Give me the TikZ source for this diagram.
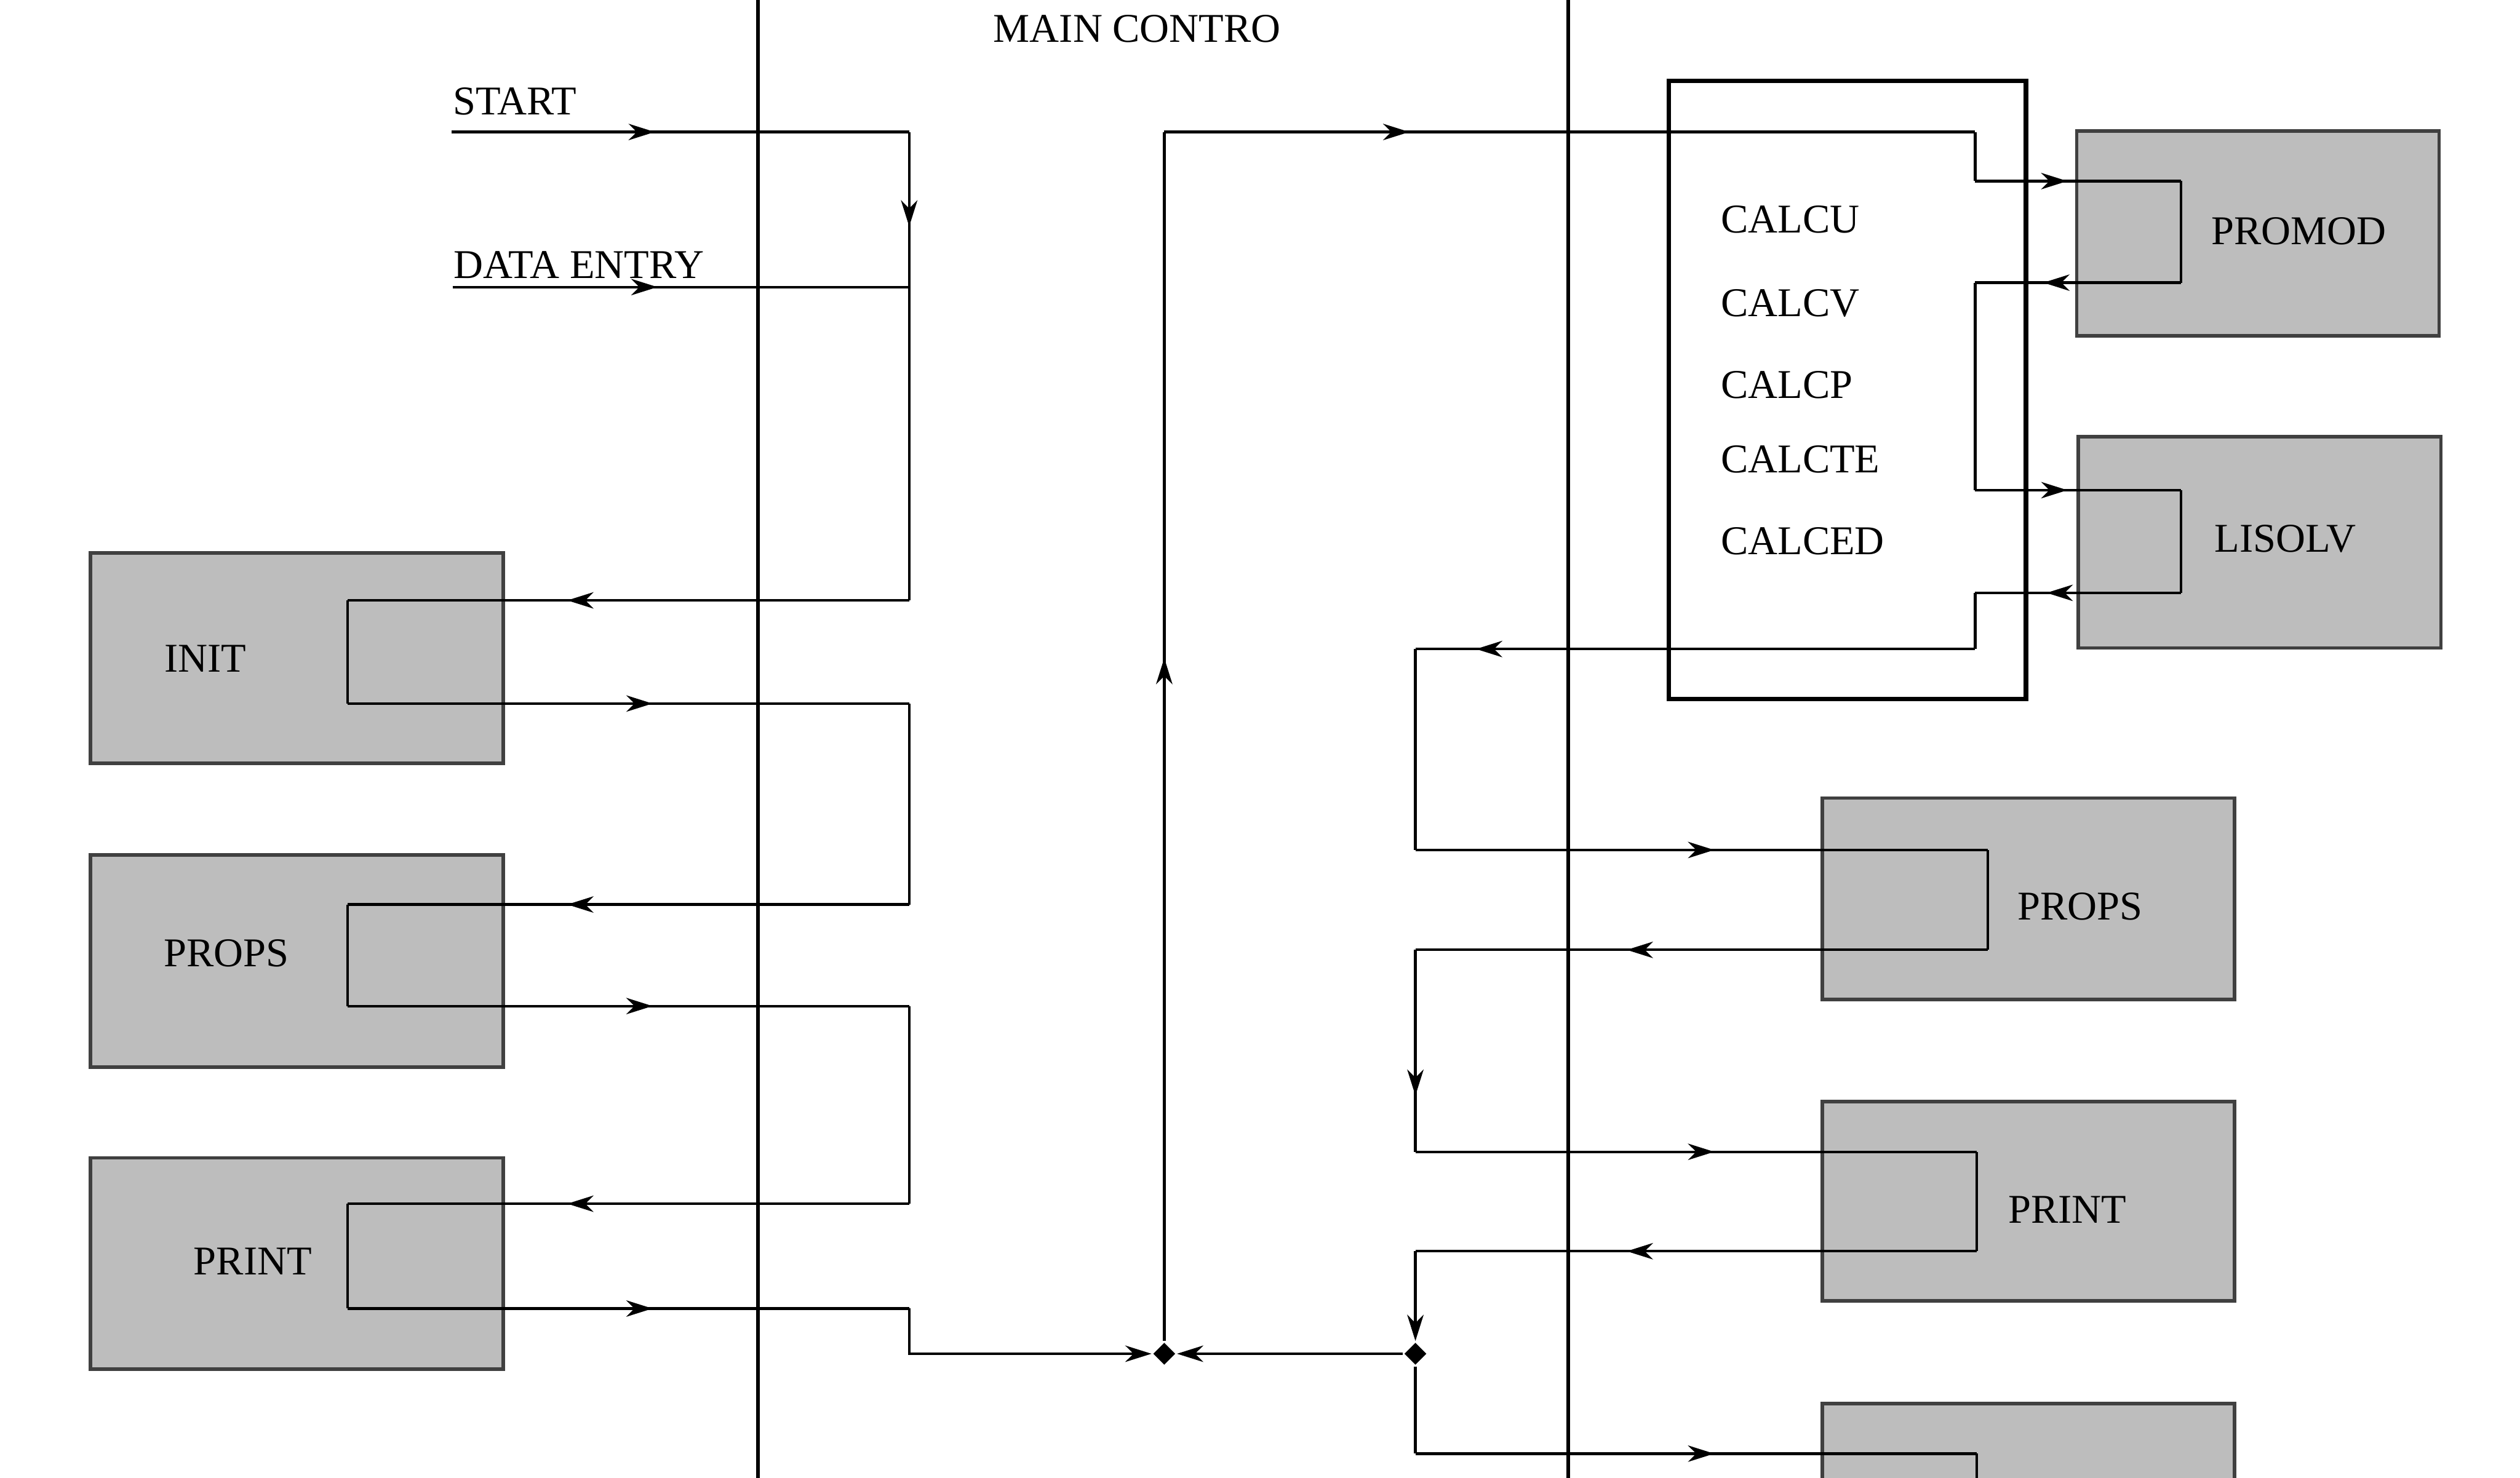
\documentclass[tikz,border=0pt]{standalone}
\usepackage{fontspec}
\setmainfont{Liberation Serif}
\usetikzlibrary{arrows.meta,positioning,shapes.geometric,decorations.markings}

\definecolor{boxgray}{gray}{0.74}

\begin{document}
\begin{tikzpicture}[
    font=\fontsize{7.1}{8.5}\selectfont,
    line width=0.45pt,
    subbox/.style={
        draw=black!75,
        fill=boxgray,
        line width=0.6pt,
        inner sep=0pt
    },
    calcbox/.style={
        draw,
        line width=0.75pt,
        inner sep=0pt
    },
    txt/.style={
        inner sep=0pt,
        anchor=base west
    },
    tag/.style={
        inner sep=0pt
    },
    bus/.style={
        line width=0.65pt
    },
    arrow/.style={
        -{Stealth[length=1.6mm,width=1.0mm,inset=0.5mm]}
    },
    flow/.style={
        postaction={decorate},
        decoration={markings,
            mark=at position #1 with {\arrow{Stealth[length=1.6mm,width=1.0mm,inset=0.5mm]}}}
    },
    junction/.style={
        diamond,
        fill=black,
        inner sep=0pt,
        minimum size=1.4mm
    }
]

\useasboundingbox (0,0) rectangle (15.383,9.023);
\clip (0,0) rectangle (15.383,9.023);

% Subroutine boxes, left
\node[subbox, minimum width=2.52cm, minimum height=1.284cm] (init) at (1.813,5.005) {};
\node[subbox, minimum width=2.52cm, minimum height=1.296cm] (props) at (1.813,3.155) {};
\node[subbox, minimum width=2.52cm, minimum height=1.29cm] (print) at (1.813,1.308) {};

% Subroutine boxes, right
\node[subbox, minimum width=2.213cm, minimum height=1.25cm] (promod) at (13.783,7.598) {};
\node[subbox, minimum width=2.213cm, minimum height=1.29cm] (lisolv) at (13.793,5.712) {};
\node[subbox, minimum width=2.517cm, minimum height=1.23cm] (propsr) at (12.382,3.535) {};
\node[subbox, minimum width=2.517cm, minimum height=1.217cm] (printr) at (12.382,1.688) {};
\node[subbox, minimum width=2.517cm, minimum height=1.054cm] (lastbox) at (12.382,-0.074) {};

% CALC group
\node[calcbox, minimum width=2.18cm, minimum height=3.777cm] (calc) at (11.277,6.642) {};
\node[txt] (calcu) at (10.497,7.6) {CALCU};
\node[txt] (calcv) at (10.497,7.09) {CALCV};
\node[txt] (calcp) at (10.497,6.59) {CALCP};
\node[txt] (calcte) at (10.497,6.137) {CALCTE};
\node[txt] (calced) at (10.497,5.637) {CALCED};

% Labels
\node[tag] (initlbl) at (1.253,5.0) {INIT};
\node[tag] (propslbl) at (1.383,3.203) {PROPS};
\node[tag] (printlbl) at (1.543,1.32) {PRINT};
\node[tag] (promodlbl) at (14.033,7.613) {PROMOD};
\node[tag] (lisolvlbl) at (13.95,5.733) {LISOLV};
\node[tag] (propsrlbl) at (12.697,3.487) {PROPS};
\node[tag] (printrlbl) at (12.62,1.637) {PRINT};

\node[txt] (start) at (2.757,8.323) {START};
\node[txt] (dataentry) at (2.763,7.323) {DATA ENTRY};
\node[txt] (maincontro) at (6.057,8.767) {MAIN CONTRO};

% Column rules
\coordinate (ruleltop) at (4.627,9.1);
\coordinate (rulelbot) at (4.627,-0.1);
\coordinate (rulertop) at (9.573,9.1);
\coordinate (rulerbot) at (9.573,-0.1);
\draw[bus] (ruleltop) -- (rulelbot);
\draw[bus] (rulertop) -- (rulerbot);

% Junctions
\node[junction] (dj1) at (7.107,0.757) {};
\node[junction] (dj2) at (8.64,0.757) {};

% Left loop
\coordinate (startin) at (2.757,8.217);
\coordinate (datain) at (2.763,7.27);
\coordinate (lbus) at (5.55,8.217);

\draw[flow=1.24cm] (startin) -- (lbus);
\draw[flow=0.577cm] (lbus) -- (5.55,5.357);
\draw[flow=1.25cm] (datain) -- (5.55,7.27);

% INIT
\draw[flow=2.087cm] (5.55,5.357) -- (2.123,5.357);
\draw (2.123,5.357) -- (2.123,4.727);
\draw[flow=1.86cm] (2.123,4.727) -- (5.55,4.727);
\draw (5.55,4.727) -- (5.55,3.5);

% PROPS
\draw[flow=2.087cm] (5.55,3.5) -- (2.123,3.5);
\draw (2.123,3.5) -- (2.123,2.88);
\draw[flow=1.86cm] (2.123,2.88) -- (5.55,2.88);
\draw (5.55,2.88) -- (5.55,1.673);

% PRINT
\draw[flow=2.087cm] (5.55,1.673) -- (2.123,1.673);
\draw (2.123,1.673) -- (2.123,1.033);
\draw[flow=1.86cm] (2.123,1.033) -- (5.55,1.033);
\draw[arrow] (5.55,1.033) -- (5.55,0.757) -- (dj1);

% Main feed up and across
\coordinate (topcorner) at (7.107,8.217);
\coordinate (calcin) at (12.057,8.217);
\draw[flow=4.17cm] (dj1) -- (topcorner);
\draw[flow=1.496cm] (topcorner) -- (calcin);

% PROMOD
\draw (calcin) -- (12.057,7.917);
\draw[flow=0.563cm] (12.057,7.917) -- (13.313,7.917);
\draw (13.313,7.917) -- (13.313,7.297);
\draw[flow=0.84cm] (13.313,7.297) -- (12.057,7.297);
\draw (12.057,7.297) -- (12.057,6.03);

% LISOLV
\draw[flow=0.563cm] (12.057,6.03) -- (13.313,6.03);
\draw (13.313,6.03) -- (13.313,5.403);
\draw[flow=0.82cm] (13.313,5.403) -- (12.057,5.403);
\draw (12.057,5.403) -- (12.057,5.06);
\draw[flow=3.047cm] (12.057,5.06) -- (8.64,5.06);

% Right loop
\draw (8.64,5.06) -- (8.64,3.833);
\draw[flow=1.824cm] (8.64,3.833) -- (12.133,3.833);
\draw (12.133,3.833) -- (12.133,3.223);
\draw[flow=2.203cm] (12.133,3.223) -- (8.64,3.223);
\draw[flow=0.89cm] (8.64,3.223) -- (8.64,1.99);
\draw[flow=1.824cm] (8.64,1.99) -- (12.067,1.99);
\draw (12.067,1.99) -- (12.067,1.383);
\draw[flow=2.137cm] (12.067,1.383) -- (8.64,1.383);
\draw[arrow] (8.64,1.383) -- (dj2);
\draw[arrow] (dj2) -- (dj1);
\draw (dj2) -- (8.64,0.147);
\draw[flow=1.824cm] (8.64,0.147) -- (12.067,0.147);
\draw (12.067,0.147) -- (12.067,-0.2);

\end{tikzpicture}
\end{document}
